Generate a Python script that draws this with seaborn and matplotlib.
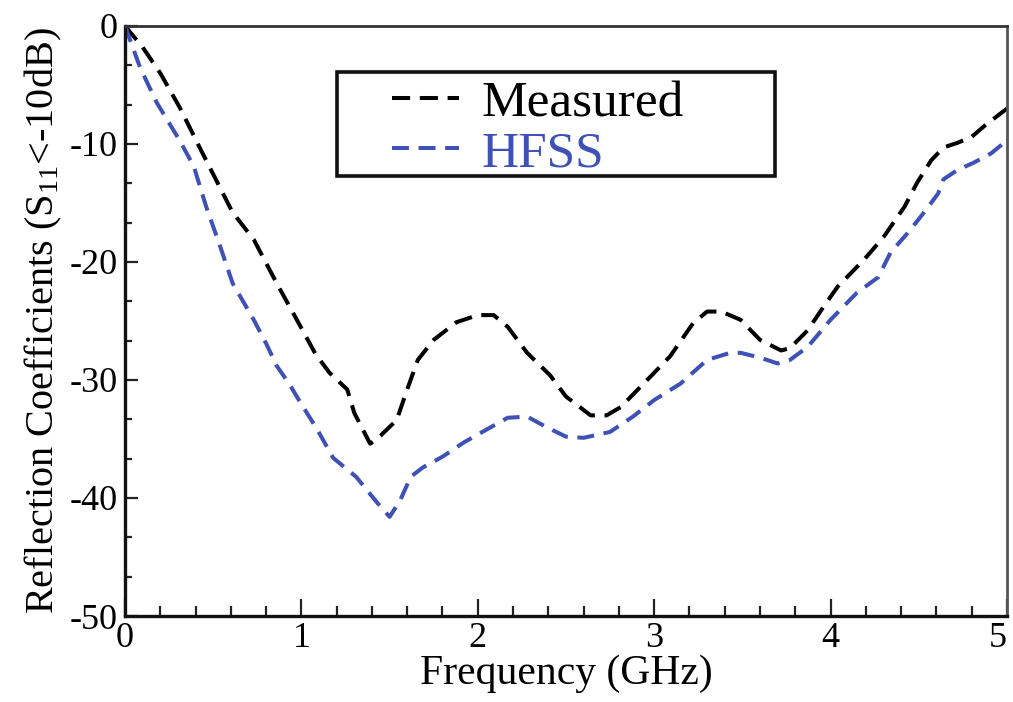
import numpy as np
import pandas as pd
import matplotlib
matplotlib.use("Agg")
import matplotlib.pyplot as plt
from matplotlib.patches import Rectangle
from matplotlib.ticker import MultipleLocator, AutoMinorLocator
import seaborn as sns


# ==================================
# DATA
# ==================================

meas_freq = [0, 0.1, 0.2, 0.31, 0.43, 0.61, 0.73, 0.86, 1.0, 1.08, 1.16,
             1.26, 1.3, 1.39, 1.45, 1.54, 1.6, 1.66, 1.75, 1.88, 2.0, 2.09,
             2.17, 2.28, 2.41, 2.5, 2.64, 2.73, 2.81, 2.98, 3.09, 3.22, 3.3,
             3.38, 3.49, 3.6, 3.72, 3.77, 3.87, 3.96, 4.04, 4.19, 4.3, 4.42,
             4.49, 4.57, 4.64, 4.72, 4.8, 4.87, 5.0]
meas_s11 = [0, -1.8, -4.0, -6.9, -10.5, -15.8, -18.1, -21.8, -25.6, -27.8,
            -29.4, -30.8, -32.8, -35.4, -34.7, -33.4, -30.8, -28.3, -26.6,
            -25.1, -24.5, -24.5, -25.5, -27.7, -29.6, -31.4, -33.0, -33.0,
            -32.3, -29.7, -28.0, -25.2, -24.2, -24.2, -24.9, -26.6, -27.5,
            -27.3, -25.8, -23.8, -22.1, -19.8, -17.9, -15.3, -13.3, -11.4,
            -10.3, -9.9, -9.4, -8.5, -7.0]

hfss_freq = [0, 0.085, 0.18, 0.31, 0.39, 0.46, 0.54, 0.61, 0.73, 0.8, 0.86,
             0.93, 0.99, 1.09, 1.18, 1.31, 1.43, 1.5, 1.56, 1.62, 1.69, 1.8,
             1.92, 2.05, 2.17, 2.28, 2.39, 2.5, 2.6, 2.75, 2.88, 3.0, 3.15,
             3.3, 3.43, 3.49, 3.6, 3.7, 3.77, 3.87, 4.0, 4.15, 4.27, 4.34,
             4.44, 4.53, 4.61, 4.64, 4.72, 4.81, 4.91, 5.0]
hfss_s11 = [0, -3.5, -6.5, -9.7, -11.9, -15.3, -18.7, -21.8, -24.9, -26.9,
            -28.8, -30.3, -31.8, -34.2, -36.6, -38.2, -40.4, -41.6, -40.2,
            -38.2, -37.4, -36.5, -35.3, -34.2, -33.2, -33.1, -34.0, -34.8,
            -34.9, -34.4, -33.1, -31.7, -30.3, -28.3, -27.7, -27.7, -28.1,
            -28.6, -28.3, -27.2, -24.9, -22.6, -21.3, -19.2, -17.5, -15.8,
            -14.2, -13.0, -12.2, -11.6, -10.8, -9.7]

x_ticks = [0, 1, 2, 3, 4, 5]
x_tick_labels = ["0", "1", "2", "3", "4", "5"]

series_names = ["Measured", "HFSS"]
series_colors = ["#000000", "#3F51B5"]


# ==================================
# BUILD TABLE
# ==================================

df = pd.concat([
    pd.DataFrame({"freq": meas_freq, "s11": meas_s11, "series": "Measured"}),
    pd.DataFrame({"freq": hfss_freq, "s11": hfss_s11, "series": "HFSS"}),
], ignore_index=True)


# ==================================
# PLOT
# ==================================

sns.set_style("ticks")
plt.rcParams["font.family"] = ["Liberation Serif", "DejaVu Serif"]
plt.rcParams["mathtext.fontset"] = "custom"
plt.rcParams["mathtext.rm"] = "Liberation Serif"
plt.rcParams["axes.unicode_minus"] = False
plt.rcParams["text.color"] = "black"
plt.rcParams["axes.labelcolor"] = "black"
plt.rcParams["xtick.labelcolor"] = "black"
plt.rcParams["ytick.labelcolor"] = "black"

fig = plt.figure(figsize=(10.13, 7.02), dpi=100)
ax = fig.add_axes([0.1234, 0.1225, 0.8706, 0.8405])

sns.lineplot(
    data=df,
    x="freq",
    y="s11",
    hue="series",
    style="series",
    hue_order=series_names,
    style_order=series_names,
    palette=series_colors,
    dashes=[(4.5, 2.4), (4.2, 2.4)],
    linewidth=2.9,
    estimator=None,
    sort=False,
    ax=ax,
)

ax.set_xlim(0, 5)
ax.set_ylim(-50, 0)

ax.set_xticks(x_ticks, x_tick_labels)
ax.xaxis.set_minor_locator(AutoMinorLocator(5))
ax.yaxis.set_major_locator(MultipleLocator(10))
ax.yaxis.set_minor_locator(AutoMinorLocator(3))

ax.tick_params(axis="both", which="both", direction="in",
               top=False, right=False, width=1.6, color="#222222")
ax.tick_params(axis="x", which="major", length=12, pad=4, labelsize=26)
ax.tick_params(axis="x", which="minor", length=7)
ax.tick_params(axis="y", which="major", length=9, pad=5, labelsize=26)
ax.tick_params(axis="y", which="minor", length=5)

# keep the last x label inside the picture
ax.get_xticklabels()[-1].set_horizontalalignment("right")

ax.spines["left"].set_linewidth(2.4)
ax.spines["bottom"].set_linewidth(2.4)
ax.spines["left"].set_color("#111111")
ax.spines["bottom"].set_color("#111111")
ax.spines["top"].set_linewidth(2.0)
ax.spines["top"].set_color("#333333")
ax.spines["right"].set_linewidth(2.0)
ax.spines["right"].set_color("#555555")

ax.set_xlabel("Frequency (GHz)", fontsize=30, labelpad=0)
ax.set_ylabel(r"Reflection Coefficients (S$\mathregular{_{11}}$<-10dB)",
              fontsize=29, labelpad=4)

# legend box drawn separately, wider than its content as in the source
ax.add_patch(Rectangle((0.24, 0.746), 0.497, 0.176,
                       transform=ax.transAxes, fill=False,
                       edgecolor="#111111", linewidth=2.6, zorder=4))

leg = ax.legend(
    loc="upper left",
    bbox_to_anchor=(0.303, 0.908),
    borderaxespad=0,
    fontsize=37,
    handlelength=1.3,
    handletextpad=0.43,
    labelspacing=0.06,
    borderpad=0,
    frameon=False,
)
for text, color in zip(leg.get_texts(), series_colors):
    text.set_color(color)

fig.savefig("out.png", dpi=100)
